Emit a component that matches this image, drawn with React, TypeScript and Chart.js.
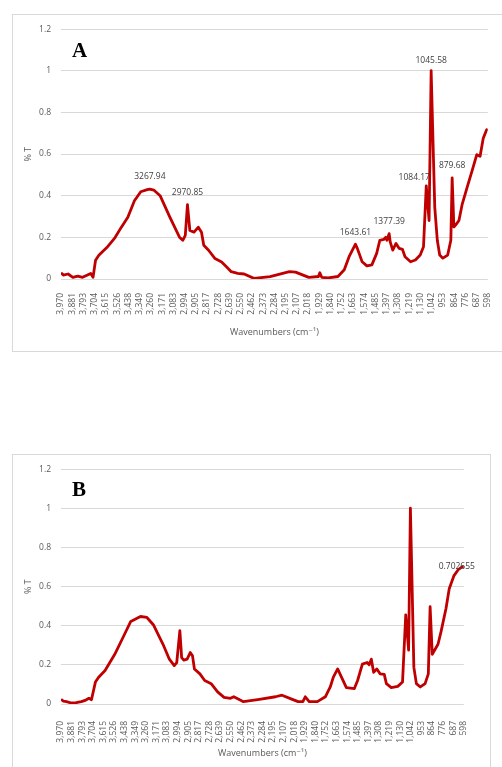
import React, { useEffect, useRef } from "react";
import { Chart, registerables } from "chart.js";

Chart.register(...registerables);

// x-axis tick labels (wavenumbers, cm-1)
const X_TICKS = [
  3970, 3881, 3793, 3704, 3615, 3526, 3438, 3349, 3260, 3171, 3083, 2994, 2905,
  2817, 2728, 2639, 2550, 2462, 2373, 2284, 2195, 2107, 2018, 1929, 1840, 1752,
  1663, 1574, 1485, 1397, 1308, 1219, 1130, 1042, 953, 864, 776, 687, 598,
];

// Spectrum A
const WN_A = [
  3970, 3952, 3914, 3876, 3838, 3799, 3761, 3735, 3717, 3697, 3671, 3608, 3543,
  3493, 3442, 3390, 3340, 3289, 3267.94, 3237, 3187, 3110, 3034, 3008, 2988,
  2970.85, 2952, 2919, 2885, 2860, 2842, 2804, 2753, 2701, 2663, 2625, 2574,
  2523, 2446, 2318, 2165, 2117, 2012, 1936, 1925, 1910, 1859, 1782, 1732, 1694,
  1643.61, 1629, 1591, 1553, 1514, 1476, 1451, 1420, 1405, 1395, 1377.39, 1369,
  1349, 1323, 1298, 1272, 1252, 1208, 1170, 1132, 1106, 1084.17, 1062, 1045.58,
  1017, 997, 978, 953, 915, 890, 879.68, 866, 851, 826, 800, 762, 723, 685, 659,
  634, 608, 598,
];
const T_A = [
  0.03, 0.019, 0.024, 0.008, 0.014, 0.008, 0.019, 0.027, 0.008, 0.09, 0.114,
  0.151, 0.199, 0.249, 0.297, 0.376, 0.419, 0.429, 0.432, 0.427, 0.4, 0.297,
  0.201, 0.186, 0.21, 0.357, 0.233, 0.225, 0.249, 0.225, 0.162, 0.138, 0.098,
  0.082, 0.059, 0.035, 0.027, 0.024, 0.003, 0.011, 0.035, 0.033, 0.008, 0.012,
  0.03, 0.008, 0.005, 0.012, 0.044, 0.107, 0.167, 0.147, 0.083, 0.063, 0.068,
  0.123, 0.186, 0.19, 0.2, 0.186, 0.218, 0.178, 0.139, 0.171, 0.147, 0.142,
  0.107, 0.083, 0.091, 0.115, 0.155, 0.447, 0.281, 1.0, 0.344, 0.186, 0.115,
  0.1, 0.115, 0.186, 0.486, 0.25, 0.26, 0.281, 0.36, 0.439, 0.518, 0.597, 0.589,
  0.676, 0.716, 0.72,
];
const PEAKS_A = [3267.94, 2970.85, 1643.61, 1377.39, 1084.17, 1045.58, 879.68];

// Spectrum B
const WN_B = [
  3970, 3950, 3924, 3890, 3843, 3800, 3762, 3736, 3715, 3682, 3655, 3601, 3520,
  3439, 3386, 3305, 3251, 3197, 3116, 3063, 3022, 3001, 2975, 2960, 2942, 2914,
  2888, 2869, 2853, 2807, 2767, 2713, 2659, 2605, 2551, 2524, 2470, 2443, 2309,
  2174, 2120, 2039, 1985, 1945, 1925, 1892, 1824, 1757, 1716, 1690, 1654, 1622,
  1581, 1514, 1487, 1447, 1407, 1390, 1372, 1353, 1326, 1299, 1264, 1246, 1205,
  1151, 1111, 1084, 1060, 1045, 1016, 995, 962, 922, 895, 880, 862, 814, 788,
  747, 720, 680, 645, 612, 598,
];
const T_B = [
  0.024, 0.015, 0.012, 0.006, 0.007, 0.012, 0.02, 0.029, 0.022, 0.112, 0.137,
  0.171, 0.254, 0.355, 0.422, 0.447, 0.442, 0.405, 0.305, 0.229, 0.196, 0.212,
  0.375, 0.237, 0.224, 0.229, 0.263, 0.246, 0.179, 0.154, 0.12, 0.104, 0.062,
  0.034, 0.029, 0.037, 0.02, 0.012, 0.024, 0.037, 0.045, 0.025, 0.012, 0.012,
  0.037, 0.012, 0.012, 0.037, 0.087, 0.137, 0.179, 0.137, 0.084, 0.079, 0.12,
  0.204, 0.212, 0.2, 0.229, 0.162, 0.179, 0.154, 0.151, 0.104, 0.084, 0.09,
  0.112, 0.455, 0.275, 1.0, 0.187, 0.104, 0.087, 0.104, 0.154, 0.497, 0.254,
  0.305, 0.371, 0.488, 0.589, 0.656, 0.686, 0.7, 0.702655,
];
const END_LABEL_B = [598];

const FONT = "'Open Sans', 'DejaVu Sans', sans-serif";
const GREY = "#595959";

type LabelItem = { x: number; text: string; dx: number; dy: number };

function makeLabelPlugin(items: LabelItem[]) {
  return {
    id: "peakLabels",
    afterDatasetsDraw(chart: any) {
      const ctx = chart.ctx;
      const meta = chart.getDatasetMeta(0);
      const data = chart.data.datasets[0].data as { x: number; y: number }[];
      ctx.save();
      ctx.font = `8.5px ${FONT}`;
      ctx.fillStyle = "#404040";
      ctx.textAlign = "center";
      ctx.textBaseline = "middle";
      items.forEach((it) => {
        const i = data.findIndex((d) => d.x === it.x);
        if (i < 0) return;
        const el = meta.data[i];
        ctx.fillText(it.text, el.x + it.dx, el.y + it.dy);
      });
      ctx.restore();
    },
  };
}

type PanelProps = {
  wn: number[];
  t: number[];
  letter: string;
  labels: LabelItem[];
  top: number;
  width: number;
  height: number;
  boxHeight: number;
  padTop: number;
  padRight: number;
  xHeight: number;
  tickPad: number;
  titlePad: number;
  letterTop: number;
};

function Panel(p: PanelProps) {
  const ref = useRef<HTMLCanvasElement | null>(null);
  useEffect(() => {
    if (!ref.current) return;
    const chart = new Chart(ref.current, {
      type: "line",
      data: {
        datasets: [
          {
            data: p.wn.map((x, i) => ({ x, y: p.t[i] })),
            borderColor: "#c00000",
            borderWidth: 2.8,
            pointRadius: 0,
            tension: 0,
            fill: false,
            borderJoinStyle: "round",
          },
        ],
      },
      options: {
        animation: false,
        responsive: false,
        maintainAspectRatio: false,
        layout: { padding: { top: p.padTop, right: p.padRight, bottom: 0, left: 0 } },
        plugins: { legend: { display: false }, tooltip: { enabled: false } },
        scales: {
          x: {
            type: "linear",
            reverse: true,
            min: 598,
            max: 3970,
            afterBuildTicks: (s: any) => {
              s.ticks = X_TICKS.map((v) => ({ value: v }));
            },
            afterFit: (s: any) => {
              s.height = p.xHeight;
            },
            grid: { display: false, drawTicks: false },
            border: { display: false },
            ticks: {
              autoSkip: false,
              minRotation: 90,
              maxRotation: 90,
              padding: p.tickPad,
              color: GREY,
              font: { family: FONT, size: 8.5 },
              callback: (v: any) => Number(v).toLocaleString("en-US"),
            },
            title: {
              display: true,
              text: "Wavenumbers (cm⁻¹)",
              color: GREY,
              font: { family: FONT, size: 9 },
              padding: { top: 0, bottom: p.titlePad },
            },
          },
          y: {
            min: 0,
            max: 1.2,
            afterFit: (s: any) => {
              s.width = 49;
            },
            grid: { color: "#d9d9d9", drawTicks: false },
            border: { display: false },
            ticks: {
              stepSize: 0.2,
              padding: 10,
              color: GREY,
              font: { family: FONT, size: 8.5 },
              callback: (v: any) => String(Math.round(Number(v) * 10) / 10),
            },
            title: {
              display: true,
              text: "% T",
              color: GREY,
              font: { family: FONT, size: 9 },
              padding: { top: 11, bottom: 0 },
            },
          },
        },
      } as any,
      plugins: [makeLabelPlugin(p.labels)],
    });
    return () => chart.destroy();
  }, []);

  return (
    <>
      <div
        style={{
          position: "absolute",
          left: 12,
          top: p.top,
          width: p.width,
          height: p.boxHeight,
          border: "1px solid #d9d9d9",
          boxSizing: "border-box",
        }}
      />
      <canvas
        ref={ref}
        width={p.width}
        height={p.height}
        style={{ position: "absolute", left: 12, top: p.top, display: "block" }}
      />
      <div
        style={{
          position: "absolute",
          left: 72,
          top: p.letterTop,
          font: "bold 21px 'Liberation Serif', 'Times New Roman', serif",
          lineHeight: "21px",
          color: "#000",
        }}
      >
        {p.letter}
      </div>
    </>
  );
}

export default function App() {
  const labelsA: LabelItem[] = PEAKS_A.map((x) => ({
    x,
    text: x.toFixed(2),
    dx: x === 1084.17 ? -12 : 0,
    dy: x === 1084.17 ? -8 : x === 1045.58 ? -10 : -12,
  }));
  const labelsB: LabelItem[] = END_LABEL_B.map((x) => ({
    x,
    text: String(T_B[WN_B.indexOf(x)]),
    dx: -7,
    dy: 0,
  }));
  return (
    <div
      style={{
        position: "absolute",
        left: 0,
        top: 0,
        width: 502,
        height: 767,
        overflow: "hidden",
        background: "#fff",
      }}
    >
      <Panel
        wn={WN_A}
        t={T_A}
        letter="A"
        labels={labelsA}
        top={14}
        width={500}
        height={338}
        boxHeight={338}
        padTop={13}
        padRight={11}
        xHeight={73}
        tickPad={14}
        titlePad={14.6}
        letterTop={40}
      />
      <Panel
        wn={WN_B}
        t={T_B}
        letter="B"
        labels={labelsB}
        top={454}
        width={479}
        height={313}
        boxHeight={340}
        padTop={11}
        padRight={12}
        xHeight={63}
        tickPad={17}
        titlePad={8.6}
        letterTop={479}
      />
    </div>
  );
}
